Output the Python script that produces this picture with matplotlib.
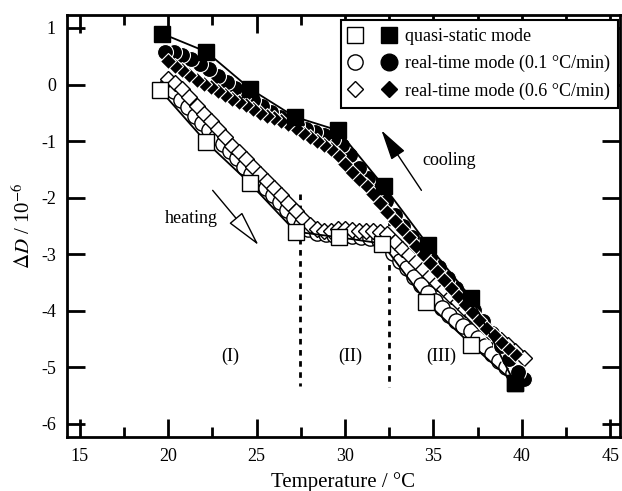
# delta D vs temperature, quasi-static and real-time modes

import matplotlib
matplotlib.use('Agg')
import matplotlib.pyplot as plt
from matplotlib.lines import Line2D
from matplotlib.legend_handler import HandlerTuple

plt.rcParams['font.family'] = ['Liberation Serif', 'DejaVu Serif']
plt.rcParams['mathtext.fontset'] = 'stix'
plt.rcParams['axes.unicode_minus'] = False

# quasi-static mode (heating = open, cooling = filled)
qs_heat_T = [19.55, 22.15, 24.6, 27.2, 29.65, 32.1, 34.6, 37.15, 39.6]
qs_heat_D = [-0.1, -1.02, -1.74, -2.6, -2.7, -2.81, -3.85, -4.6, -5.28]
qs_cool_T = [39.6, 37.15, 34.7, 32.2, 29.6, 27.15, 24.65, 22.15, 19.65]
qs_cool_D = [-5.28, -3.78, -2.84, -1.8, -0.81, -0.57, -0.08, 0.58, 0.9]

# real-time mode 0.1 C/min
rt1_heat_T = [19.9, 20.3, 20.7, 21.1, 21.5, 21.9, 22.3, 22.7, 23.1, 23.5, 23.9, 24.3,
              24.7, 25.1, 25.5, 25.9, 26.3, 26.7, 27.1, 27.5, 27.9, 28.4, 28.9, 29.4,
              29.9, 30.4, 30.9, 31.4, 31.9, 32.3, 32.7, 33.1, 33.5, 33.9, 34.3, 34.7,
              35.1, 35.5, 35.9, 36.3, 36.7, 37.1, 37.5, 37.9, 38.3, 38.7, 39.1, 39.5, 39.9]
rt1_heat_D = [0.0, -0.12, -0.27, -0.4, -0.55, -0.68, -0.8, -0.93, -1.05, -1.18, -1.3, -1.45,
              -1.58, -1.7, -1.83, -1.95, -2.08, -2.22, -2.36, -2.48, -2.56, -2.62, -2.65, -2.66,
              -2.67, -2.68, -2.7, -2.72, -2.74, -2.8, -2.98, -3.12, -3.25, -3.4, -3.55, -3.68,
              -3.82, -3.95, -4.08, -4.18, -4.27, -4.36, -4.48, -4.62, -4.76, -4.88, -5.0, -5.1, -5.18]
rt1_cool_T = [40.1, 39.8, 39.3, 38.8, 38.3, 37.8, 37.3, 36.8, 36.3, 35.8, 35.3, 34.8,
              34.3, 33.8, 33.3, 32.8, 32.3, 31.8, 31.3, 30.8, 30.3, 29.8, 29.3, 28.8,
              28.3, 27.8, 27.3, 26.8, 26.3, 25.8, 25.3, 24.8, 24.3, 23.8, 23.3, 22.8,
              22.3, 21.8, 21.3, 20.8, 20.3, 19.8]
rt1_cool_D = [-5.2, -5.08, -4.86, -4.62, -4.4, -4.18, -3.98, -3.8, -3.6, -3.42, -3.22, -3.05,
              -2.88, -2.7, -2.5, -2.3, -2.05, -1.85, -1.65, -1.48, -1.25, -1.06, -0.97, -0.9,
              -0.84, -0.78, -0.72, -0.65, -0.57, -0.48, -0.38, -0.28, -0.17, -0.06, 0.05, 0.16,
              0.27, 0.36, 0.45, 0.53, 0.57, 0.58]

# real-time mode 0.6 C/min
rt6_heat_T = [20.0, 20.4, 20.8, 21.2, 21.6, 22.0, 22.4, 22.8, 23.2, 23.6, 24.0, 24.4,
              24.8, 25.2, 25.6, 26.0, 26.4, 26.8, 27.2, 27.6, 28.0, 28.4, 28.8, 29.2,
              29.6, 30.0, 30.4, 30.8, 31.2, 31.6, 32.0, 32.4, 32.8, 33.2, 33.6, 34.0,
              34.4, 34.8, 35.2, 35.6, 36.0, 36.4, 36.8, 37.2, 37.6, 38.0, 38.4, 38.8,
              39.2, 39.6, 40.1]
rt6_heat_D = [0.1, 0.02, -0.08, -0.22, -0.38, -0.52, -0.64, -0.78, -0.92, -1.08, -1.2, -1.32,
              -1.45, -1.58, -1.7, -1.83, -1.96, -2.1, -2.24, -2.38, -2.48, -2.55, -2.58, -2.58,
              -2.56, -2.56, -2.57, -2.58, -2.58, -2.58, -2.6, -2.64, -2.78, -2.9, -3.02, -3.14,
              -3.26, -3.38, -3.5, -3.62, -3.74, -3.85, -3.97, -4.08, -4.19, -4.3, -4.41, -4.51,
              -4.61, -4.71, -4.84]
rt6_cool_T = [39.6, 39.2, 38.8, 38.4, 38.0, 37.6, 37.2, 36.8, 36.4, 36.0, 35.6, 35.2,
              34.8, 34.4, 34.0, 33.6, 33.2, 32.8, 32.4, 32.0, 31.6, 31.2, 30.8, 30.4,
              30.0, 29.6, 29.2, 28.8, 28.4, 28.0, 27.6, 27.2, 26.8, 26.4, 26.0, 25.6,
              25.2, 24.8, 24.4, 24.0, 23.6, 23.2, 22.8, 22.4, 22.0, 21.6, 21.2, 20.8,
              20.4, 20.0]
rt6_cool_D = [-4.76, -4.66, -4.55, -4.43, -4.3, -4.17, -4.02, -3.88, -3.73, -3.6, -3.45, -3.3,
              -3.15, -3.0, -2.85, -2.7, -2.56, -2.42, -2.25, -2.1, -1.93, -1.78, -1.67, -1.55,
              -1.4, -1.25, -1.14, -1.07, -1.0, -0.93, -0.85, -0.77, -0.7, -0.65, -0.6, -0.56,
              -0.5, -0.44, -0.37, -0.31, -0.25, -0.19, -0.12, -0.05, 0.01, 0.08, 0.17, 0.25,
              0.33, 0.42]

legend_labels = ['quasi-static mode', 'real-time mode (0.1 °C/min)', 'real-time mode (0.6 °C/min)']
region_labels = ['(I)', '(II)', '(III)']
region_T = [23.5, 30.3, 35.45]
boundary_T = [27.43, 32.46]

fig = plt.figure(figsize=(6.22, 4.91), dpi=100)
ax = fig.add_axes([0.1077, 0.110, 0.889, 0.8595])

open_kw = dict(linestyle='none', markerfacecolor='white', markeredgecolor='black', markeredgewidth=1.0)
fill_kw = dict(linestyle='none', markerfacecolor='black', markeredgecolor='white', markeredgewidth=0.8)

ax.plot(rt1_heat_T, rt1_heat_D, marker='o', markersize=11, zorder=2, **open_kw)
ax.plot(rt6_heat_T, rt6_heat_D, marker='D', markersize=8, zorder=3, **open_kw)
ax.plot(rt1_cool_T, rt1_cool_D, marker='o', markersize=11.5, zorder=4, **fill_kw)
ax.plot(rt6_cool_T, rt6_cool_D, marker='D', markersize=8.5, zorder=5, **fill_kw)

ax.plot(qs_heat_T, qs_heat_D, color='black', lw=1.3, zorder=6)
ax.plot(qs_cool_T, qs_cool_D, color='black', lw=1.3, zorder=6)
ax.plot(qs_heat_T, qs_heat_D, marker='s', markersize=11, zorder=7, **open_kw)
ax.plot(qs_cool_T, qs_cool_D, marker='s', markersize=11, zorder=8,
        linestyle='none', markerfacecolor='black', markeredgecolor='black')

# region boundaries
ax.plot([boundary_T[0], boundary_T[0]], [-1.93, -5.32], color='black', lw=2, ls=(0, (2, 2)), zorder=1)
ax.plot([boundary_T[1], boundary_T[1]], [-2.2, -5.35], color='black', lw=2, ls=(0, (2, 2)), zorder=1)
for lab, t in zip(region_labels, region_T):
    ax.text(t, -4.8, lab, ha='center', va='center', fontsize=13)

# arrows
ax.annotate('', xy=(25.11, -2.84), xytext=(22.51, -1.87),
            arrowprops=dict(arrowstyle='-|>,head_length=1.15,head_width=0.27', mutation_scale=20,
                            fc='white', ec='black', lw=1.0, shrinkA=0, shrinkB=0))
ax.text(21.33, -2.37, 'heating', ha='center', va='center', fontsize=13)
ax.annotate('', xy=(32.06, -0.81), xytext=(34.32, -1.87),
            arrowprops=dict(arrowstyle='-|>,head_length=0.95,head_width=0.25', mutation_scale=20,
                            fc='black', ec='black', lw=1.0, shrinkA=0, shrinkB=0))
ax.text(35.9, -1.34, 'cooling', ha='center', va='center', fontsize=13)

ax.set_xlim(14.27, 45.55)
ax.set_ylim(-6.23, 1.23)
ax.set_xticks([15, 20, 25, 30, 35, 40, 45])
ax.set_xticks([17.5, 22.5, 27.5, 32.5, 37.5, 42.5], minor=True)
ax.set_yticks([1, 0, -1, -2, -3, -4, -5, -6])
ax.tick_params(which='both', direction='in', top=True, right=True, width=2, labelsize=13)
ax.tick_params(which='major', length=13, pad=8)
ax.tick_params(which='minor', length=7)
for s in ax.spines.values():
    s.set_linewidth(2)

ax.set_xlabel('Temperature / °C', fontsize=15, labelpad=5)
ax.set_ylabel(r'$\Delta D$ / 10$^{-6}$', fontsize=15, labelpad=4)

handles = [
    (Line2D([], [], marker='s', markersize=11, **open_kw),
     Line2D([], [], marker='s', markersize=11, linestyle='none', markerfacecolor='black', markeredgecolor='black')),
    (Line2D([], [], marker='o', markersize=11, **open_kw),
     Line2D([], [], marker='o', markersize=12, linestyle='none', markerfacecolor='black', markeredgecolor='black')),
    (Line2D([], [], marker='D', markersize=8, **open_kw),
     Line2D([], [], marker='D', markersize=8, linestyle='none', markerfacecolor='black', markeredgecolor='black')),
]
leg = ax.legend(handles, legend_labels, handler_map={tuple: HandlerTuple(ndivide=None, pad=1.2)},
                loc='upper right', bbox_to_anchor=(0.996, 0.988), fontsize=13, frameon=True,
                fancybox=False, edgecolor='black', framealpha=1, handlelength=2.6, handletextpad=0.5,
                labelspacing=0.55, borderpad=0.45, borderaxespad=0)
leg.get_frame().set_linewidth(1.5)
leg.set_zorder(10)

fig.savefig('out.png', dpi=100)
